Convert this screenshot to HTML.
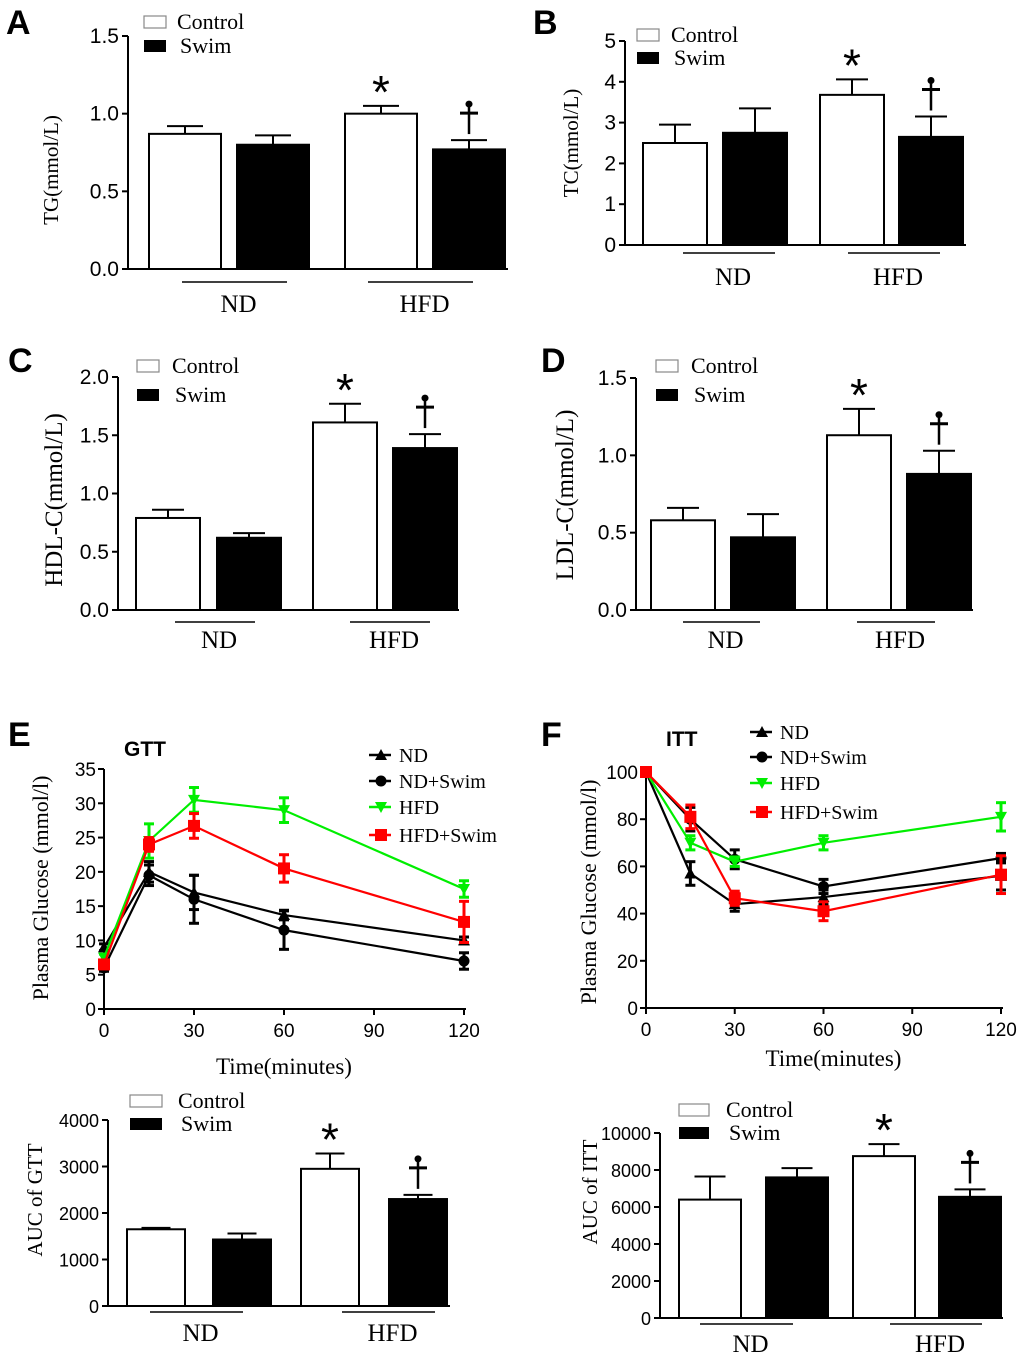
<!DOCTYPE html>
<html><head><meta charset="utf-8"><style>
html,body{margin:0;padding:0;background:#fff}
svg{display:block}
.t{font-family:"Liberation Sans",Arial,sans-serif}
.s{font-family:"Liberation Serif","Times New Roman",serif}
</style></head><body>
<svg id="fig" width="1020" height="1357" viewBox="0 0 1020 1357" xmlns="http://www.w3.org/2000/svg"></svg>
<script>
// ---- bar panel data ----
const groups = ["ND","HFD"];
const seriesNames = ["Control","Swim"];
const tgVals = [0.87,0.80,1.00,0.77];   const tgErr = [0.05,0.06,0.05,0.06];
const tcVals = [2.5,2.75,3.68,2.65];    const tcErr = [0.45,0.6,0.38,0.5];
const hdlVals = [0.79,0.62,1.61,1.39];  const hdlErr = [0.07,0.04,0.16,0.12];
const ldlVals = [0.58,0.47,1.13,0.88];  const ldlErr = [0.08,0.15,0.17,0.15];
const aucGttVals = [1650,1430,2950,2300]; const aucGttErr = [30,130,330,90];
const aucIttVals = [6400,7600,8750,6550]; const aucIttErr = [1250,500,650,400];
const tgTicks = ["0.0","0.5","1.0","1.5"];
const tcTicks = ["0","1","2","3","4","5"];
const hdlTicks = ["0.0","0.5","1.0","1.5","2.0"];
const ldlTicks = ["0.0","0.5","1.0","1.5"];
const aucGttTicks = ["0","1000","2000","3000","4000"];
const aucIttTicks = ["0","2000","4000","6000","8000","10000"];
// ---- line panel data ----
const times = [0,15,30,60,120];
const timeTicks = [0,30,60,90,120];
const lineNames = ["ND","ND+Swim","HFD","HFD+Swim"];
const gttND = [9,20,17,13.7,10];        const gttNDe = [0.5,1.5,2.5,0.7,0.5];
const gttNDS = [6,19.5,16,11.5,7];      const gttNDSe = [0.5,1.5,3.5,2.8,1.2];
const gttHFD = [7.5,24.5,30.5,29,17.5]; const gttHFDe = [0.5,2.5,1.8,1.8,1.2];
const gttHFDS = [6.5,24,26.7,20.5,12.7];const gttHFDSe = [0.5,1,1.8,2,3];
const gttYTicks = [0,5,10,15,20,25,30,35];
const ittND = [100,57,44,47,56];        const ittNDe = [0,5,3,3,6];
const ittNDS = [100,80,63,51.5,63.5];   const ittNDSe = [0,5,4,3,2];
const ittHFD = [100,70,62,70,81];       const ittHFDe = [0,3,2,3,6];
const ittHFDS = [100,81,46.5,41,56.5];  const ittHFDSe = [0,5,3,4,8];
const ittYTicks = [0,20,40,60,80,100];

const NS="http://www.w3.org/2000/svg";
const svg=document.getElementById('fig');
function el(tag,attrs,parent,text){const e=document.createElementNS(NS,tag);for(const k in attrs)e.setAttribute(k,attrs[k]);if(text!==undefined)e.textContent=text;(parent||svg).appendChild(e);return e;}
function txt(x,y,s,cls,size,anchor,parent,extra){const e=el('text',Object.assign({x:x,y:y,class:cls,'font-size':size,'text-anchor':anchor||'middle'},extra||{}),parent,s);return e;}

function barPanel(p){
  const g=el('g',{});
  
  
  const ymax=p.max, y=v=>p.y0-(v/ymax)*(p.y0-p.y1);
  if(p.letter){const l=txt(p.lx,p.ly,p.letter,'t',34,'start',g,{'font-weight':'bold'});}
  const ax=el('path',{d:`M${p.ax} ${p.y1}V${p.y0}H${p.axEnd}`,stroke:'#000','stroke-width':2,fill:'none'},g);
  
  p.ticks.forEach((t,i)=>{const v=i*ymax/(p.ticks.length-1);const yy=y(v);
    el('line',{x1:p.ax-6,x2:p.ax,y1:yy,y2:yy,stroke:'#000','stroke-width':2},g);
    const tl=txt(p.ax-9,yy+7,t,'t',p.tfs||21,'end',g);});
  p.vals.forEach((v,i)=>{const bx=p.bx[i],bw=p.bw;const top=y(v),et=y(v+p.err[i]);const cx=bx+bw/2;
    el('line',{x1:cx,x2:cx,y1:top,y2:et,stroke:'#000','stroke-width':2},g);
    el('line',{x1:cx-bw*0.25,x2:cx+bw*0.25,y1:et,y2:et,stroke:'#000','stroke-width':2},g);
    const r=el('rect',{x:bx,y:top,width:bw,height:p.y0-top,fill:i%2?'#000':'#fff',stroke:'#000','stroke-width':2},g);
    
    
  });
  p.gl.forEach((a,i)=>{el('line',{x1:a[0],x2:a[1],y1:p.gly,y2:p.gly,stroke:'#000','stroke-width':1.5},g);
    const gt=txt((a[0]+a[1])/2+4,p.glt,groups[i],'s',25,'middle',g);});
  const lg=el('g',{},g);
  el('rect',{x:p.lgx,y:p.lgy[0]-12,width:p.lgw,height:12,fill:'#fff',stroke:'#888','stroke-width':1.2},lg);
  el('rect',{x:p.lgx,y:p.lgy[1]-12,width:p.lgw,height:12,fill:'#000'},lg);
  txt(p.lgtx,p.lgy[0]+1,seriesNames[0],'s',22,'start',lg);
  txt(p.lgtx+3,p.lgy[1]+1,seriesNames[1],'s',22,'start',lg);
  const yl=txt(0,0,p.ylabel,'s',p.yfs||21,'middle',g,{transform:`translate(${p.ylx},${p.yly}) rotate(-90)`});
  
  const cx2=p.bx[2]+p.bw/2, cx3=p.bx[3]+p.bw/2;
  const as=txt(cx2,y(p.vals[2]+p.err[2])+2,'*','t',46,'middle',g);
  
  const dtop=y(p.vals[3]+p.err[3]);
  const dg=el('g',{},g);
  el('line',{x1:cx3,x2:cx3,y1:dtop-6,y2:dtop-36,stroke:'#000','stroke-width':2.5},dg);
  el('line',{x1:cx3-9,x2:cx3+9,y1:dtop-27,y2:dtop-27,stroke:'#000','stroke-width':3},dg);
  el('circle',{cx:cx3,cy:dtop-36,r:3.5,fill:'#000'},dg);
}

barPanel({name:'panel-a-tg',letter:'A',lx:6,ly:34,ax:128,axEnd:508,y0:269,y1:36,max:1.5,ticks:tgTicks,vals:tgVals,err:tgErr,bx:[149,237,345,433],bw:72,gl:[[182,287],[368,473]],gly:282,glt:312,lgx:144,lgy:[28,52],lgw:22,lgtx:177,ylabel:'TG(mmol/L)',ylx:58,yly:170});
barPanel({name:'panel-b-tc',letter:'B',lx:533,ly:34,ax:625,axEnd:966,y0:245,y1:41,max:5,ticks:tcTicks,vals:tcVals,err:tcErr,bx:[643,723,820,899],bw:64,gl:[[683,775],[848,940]],gly:253,glt:285,lgx:637,lgy:[41,64],lgw:22,lgtx:671,ylabel:'TC(mmol/L)',ylx:578,yly:143});
barPanel({name:'panel-c-hdl',letter:'C',lx:8,ly:372,ax:118,axEnd:459,y0:610,y1:377,max:2,ticks:hdlTicks,vals:hdlVals,err:hdlErr,bx:[136,217,313,393],bw:64,gl:[[175,255],[350,430]],gly:622,glt:648,lgx:137,lgy:[372,401],lgw:22,lgtx:172,ylabel:'HDL-C(mmol/L)',ylx:62,yly:500,yfs:25});
barPanel({name:'panel-d-ldl',letter:'D',lx:541,ly:372,ax:636,axEnd:973,y0:610,y1:378,max:1.5,ticks:ldlTicks,vals:ldlVals,err:ldlErr,bx:[651,731,827,907],bw:64,gl:[[683,760],[857,935]],gly:622,glt:648,lgx:656,lgy:[372,401],lgw:22,lgtx:691,ylabel:'LDL-C(mmol/L)',ylx:573,yly:495,yfs:25});
barPanel({name:'panel-e-auc-gtt',ax:108,axEnd:450,y0:1306,y1:1120,max:4000,ticks:aucGttTicks,vals:aucGttVals,err:aucGttErr,bx:[127,213,301,389],bw:58,gl:[[150,243],[342,435]],gly:1312,glt:1341,lgx:130,lgy:[1107,1130],lgw:32,lgtx:178,ylabel:'AUC of GTT',ylx:42,yly:1200,tfs:18});
barPanel({name:'panel-f-auc-itt',ax:660,axEnd:1003,y0:1318,y1:1133,max:10000,ticks:aucIttTicks,vals:aucIttVals,err:aucIttErr,bx:[679,766,853,939],bw:62,gl:[[700,793],[890,982]],gly:1324,glt:1352,lgx:679,lgy:[1116,1139],lgw:30,lgtx:726,ylabel:'AUC of ITT',ylx:597,yly:1192,tfs:18});

const colors=['#000','#000','#00ee00','#ff0000'];
const markers=['tri','circle','dtri','square'];
function marker(g,type,x,y,c){
  if(type==='tri')el('path',{d:`M${x} ${y-6}L${x+6} ${y+5}L${x-6} ${y+5}Z`,fill:c},g);
  else if(type==='circle')el('circle',{cx:x,cy:y,r:5.5,fill:c},g);
  else if(type==='dtri')el('path',{d:`M${x-6} ${y-5}L${x+6} ${y-5}L${x} ${y+6}Z`,fill:c},g);
  else el('rect',{x:x-6,y:y-6,width:12,height:12,fill:c},g);
}
function linePanel(p){
  const g=el('g',{});
  const xs=t=>p.x0+t/120*(p.x1-p.x0), ys=v=>p.y0-v/p.max*(p.y0-p.y1);
  const l=txt(p.lx,p.ly,p.letter,'t',34,'start',g,{'font-weight':'bold'});
  const ti=txt(p.tx,p.ty,p.title,'t',21,'start',g,{'font-weight':'bold'});
  
  el('path',{d:`M${p.x0} ${p.y1}V${p.y0}H${p.x1+2}`,stroke:'#000','stroke-width':2,fill:'none'},g);
  p.yt.forEach(v=>{const yy=ys(v);el('line',{x1:p.x0-6,x2:p.x0,y1:yy,y2:yy,stroke:'#000','stroke-width':2},g);
    const t=txt(p.x0-8,yy+7,String(v),'t',19,'end',g);});
  timeTicks.forEach(v=>{const xx=xs(v);el('line',{x1:xx,x2:xx,y1:p.y0,y2:p.y0+6,stroke:'#000','stroke-width':2},g);
    const t=txt(xx,p.y0+28,String(v),'t',19,'middle',g);});
  const xl=txt((p.x0+p.x1)/2-(p.xlo||0),p.xly,'Time(minutes)','s',23,'middle',g);
  const yl=txt(0,0,'Plasma Glucose (mmol/l)','s',22,'middle',g,{transform:`translate(${p.ylx},${p.yly}) rotate(-90)`});
  p.series.forEach((s,k)=>{const sg=el('g',{},g);
    const c=colors[k];
    el('polyline',{points:times.map((t,i)=>xs(t)+','+ys(s[i])).join(' '),fill:'none',stroke:c,'stroke-width':2.2},sg);
    times.forEach((t,i)=>{const x=xs(t),e=p.errs[k][i];if(e>0){const a=ys(s[i]+e),b=ys(s[i]-e);
      el('line',{x1:x,x2:x,y1:a,y2:b,stroke:c,'stroke-width':3},sg);
      el('line',{x1:x-5,x2:x+5,y1:a,y2:a,stroke:c,'stroke-width':3},sg);
      el('line',{x1:x-5,x2:x+5,y1:b,y2:b,stroke:c,'stroke-width':3},sg);}
      marker(sg,markers[k],x,ys(s[i]),c);});
  });
  const lg=el('g',{},g);
  p.legY.forEach((yy,k)=>{el('line',{x1:p.legX,x2:p.legX+22,y1:yy,y2:yy,stroke:colors[k],'stroke-width':2.5},lg);
    marker(lg,markers[k],p.legX+12,yy,colors[k]);txt(p.legX+30,yy+7,lineNames[k],'s',20,'start',lg);});
}
linePanel({name:'panel-e-gtt',letter:'E',lx:8,ly:746,title:'GTT',tx:124,ty:756,x0:104,x1:464,y0:1009,y1:769,max:35,yt:gttYTicks,
  series:[gttND,gttNDS,gttHFD,gttHFDS],errs:[gttNDe,gttNDSe,gttHFDe,gttHFDSe],legX:369,legY:[755,781,807,835],xly:1074,ylx:48,yly:888});
linePanel({name:'panel-f-itt',letter:'F',lx:541,ly:746,title:'ITT',tx:666,ty:746,x0:646,x1:1001,y0:1008,y1:772,max:100,yt:ittYTicks,
  series:[ittND,ittNDS,ittHFD,ittHFDS],errs:[ittNDe,ittNDSe,ittHFDe,ittHFDSe],legX:750,legY:[732,757,783,812],xly:1066,ylx:596,yly:892,xlo:-10});
</script>
</body></html>
